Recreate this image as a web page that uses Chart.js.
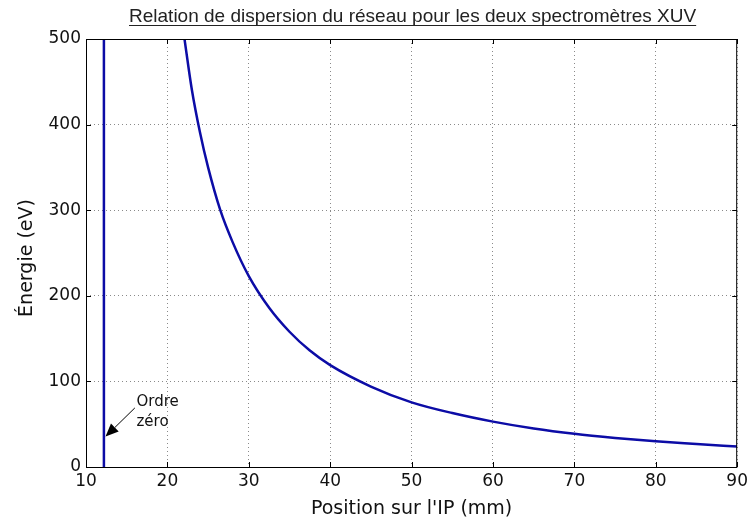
<!DOCTYPE html>
<html>
<head>
<meta charset="utf-8">
<script src="https://cdn.jsdelivr.net/npm/chart.js@4/dist/chart.umd.min.js"></script>
<style>
  html, body { margin: 0; padding: 0; background: #fff; }
  #wrap { width: 752px; height: 525px; }
</style>
</head>
<body>
<div id="wrap"><canvas id="c" width="752" height="525"></canvas></div>
<script>
// values
const zeroPos = [12.2, 12.2];
const zeroEnergy = [0, 500];

const positions = [22.1, 23, 24, 25, 26.5, 28, 30, 32.5, 35, 37.5, 40, 45, 50, 55, 60, 65, 70, 75, 80, 85, 90];
const energies = [500, 441, 391, 350, 300, 263, 223, 186, 158, 136, 119, 94, 75.5, 63, 53, 45, 38.8, 34, 30, 26.9, 23.9];

const xTicks = [10, 20, 30, 40, 50, 60, 70, 80, 90];
const yTicks = [0, 100, 200, 300, 400, 500];

const titleText = "Relation de dispersion du réseau pour les deux spectromètres XUV";
const xLabel = "Position sur l'IP (mm)";
const yLabel = "Énergie (eV)";
const noteLines = ["Ordre", "zéro"];

const lineColor = "#0c0ca6";

function toPoints(xs, ys) {
  return xs.map((x, i) => ({ x: x, y: ys[i] }));
}

const decorations = {
  id: 'decorations',
  afterDraw(chart) {
    const ctx = chart.ctx;
    const a = chart.chartArea;
    const xs = chart.scales.x, ys = chart.scales.y;
    ctx.save();

    // frame
    ctx.strokeStyle = '#000';
    ctx.lineWidth = 1;
    ctx.strokeRect(a.left + 0.5, a.top + 0.5, a.right - a.left - 1, a.bottom - a.top);

    // inward tick marks
    ctx.beginPath();
    xTicks.forEach(v => {
      const px = Math.round(xs.getPixelForValue(v)) + 0.5;
      ctx.moveTo(px, a.bottom); ctx.lineTo(px, a.bottom - 5);
      ctx.moveTo(px, a.top); ctx.lineTo(px, a.top + 5);
    });
    yTicks.forEach(v => {
      const py = Math.round(ys.getPixelForValue(v)) + 0.5;
      ctx.moveTo(a.left, py); ctx.lineTo(a.left + 5, py);
      ctx.moveTo(a.right, py); ctx.lineTo(a.right - 5, py);
    });
    ctx.stroke();

    // title, underlined
    ctx.fillStyle = '#222';
    ctx.font = '19px "Liberation Sans", Arial, sans-serif';
    ctx.textAlign = 'center';
    ctx.textBaseline = 'alphabetic';
    const cx = (a.left + a.right) / 2 + 1;
    ctx.fillText(titleText, cx, 22);
    const w = ctx.measureText(titleText).width;
    ctx.fillRect(cx - w / 2, 25, w, 1);

    // axis labels
    ctx.fillStyle = '#111';
    ctx.font = '19px "DejaVu Sans", sans-serif';
    ctx.textBaseline = 'middle';
    ctx.fillText(xLabel, (a.left + a.right) / 2, 509);
    ctx.save();
    ctx.translate(27, 258);
    ctx.rotate(-Math.PI / 2);
    ctx.fillText(yLabel, 0, 0);
    ctx.restore();

    // "Ordre zéro" annotation with arrow
    const tipX = xs.getPixelForValue(12.4), tipY = ys.getPixelForValue(35.5);
    const tailX = xs.getPixelForValue(16.0), tailY = ys.getPixelForValue(69);
    const ang = Math.atan2(tipY - tailY, tipX - tailX);
    const hl = 13, hw = 5.5;
    const bx = tipX - hl * Math.cos(ang), by = tipY - hl * Math.sin(ang);
    ctx.strokeStyle = '#000';
    ctx.lineWidth = 1;
    ctx.beginPath();
    ctx.moveTo(tailX, tailY);
    ctx.lineTo(bx, by);
    ctx.stroke();
    ctx.fillStyle = '#000';
    ctx.beginPath();
    ctx.moveTo(tipX, tipY);
    ctx.lineTo(bx + hw * Math.sin(ang), by - hw * Math.cos(ang));
    ctx.lineTo(bx - hw * Math.sin(ang), by + hw * Math.cos(ang));
    ctx.closePath();
    ctx.fill();

    ctx.fillStyle = '#111';
    ctx.font = '15px "DejaVu Sans", sans-serif';
    ctx.textAlign = 'left';
    ctx.textBaseline = 'middle';
    const nx = xs.getPixelForValue(16.2);
    ctx.fillText(noteLines[0], nx, ys.getPixelForValue(75.5));
    ctx.fillText(noteLines[1], nx, ys.getPixelForValue(52.5));

    ctx.restore();
  }
};

new Chart(document.getElementById('c'), {
  type: 'scatter',
  data: {
    datasets: [
      {
        data: toPoints(zeroPos, zeroEnergy),
        showLine: true,
        borderColor: lineColor,
        borderWidth: 2.5,
        pointRadius: 0
      },
      {
        data: toPoints(positions, energies),
        showLine: true,
        borderColor: lineColor,
        borderWidth: 2.5,
        pointRadius: 0,
        cubicInterpolationMode: 'monotone'
      }
    ]
  },
  options: {
    responsive: false,
    maintainAspectRatio: false,
    animation: false,
    layout: { padding: { top: 39, right: 10, left: 0, bottom: 0 } },
    plugins: {
      legend: { display: false },
      tooltip: { enabled: false }
    },
    scales: {
      x: {
        type: 'linear',
        min: 10,
        max: 90,
        afterFit(scale) { scale.height = 58; },
        afterBuildTicks(scale) { scale.ticks = xTicks.map(v => ({ value: v })); },
        grid: { color: '#8a8a8a', drawTicks: false },
        border: { display: false, dash: [1, 3] },
        ticks: {
          padding: 4,
          color: '#111',
          font: { family: '"DejaVu Sans", sans-serif', size: 17 }
        }
      },
      y: {
        type: 'linear',
        min: 0,
        max: 500,
        afterFit(scale) { scale.width = 86; },
        afterBuildTicks(scale) { scale.ticks = yTicks.map(v => ({ value: v })); },
        grid: { color: '#8a8a8a', drawTicks: false },
        border: { display: false, dash: [1, 3] },
        ticks: {
          padding: 5,
          color: '#111',
          font: { family: '"DejaVu Sans", sans-serif', size: 17 }
        }
      }
    }
  },
  plugins: [decorations]
});
</script>
</body>
</html>
